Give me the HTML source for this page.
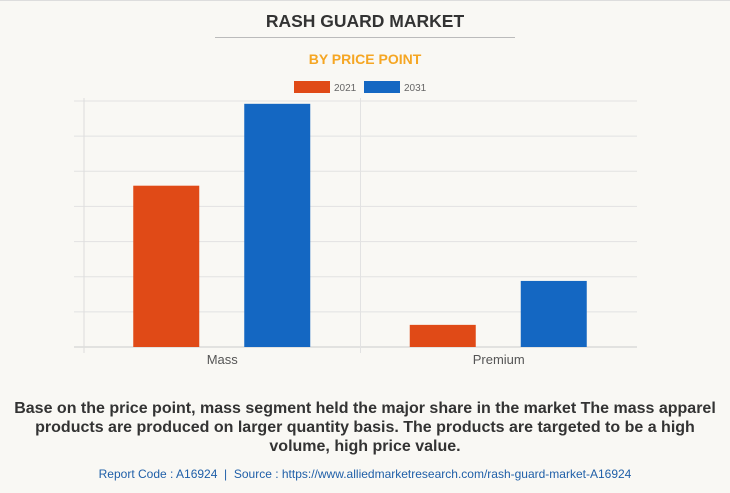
<!DOCTYPE html>
<html><head><meta charset="utf-8"><style>
body{margin:0;width:730px;height:493px;background:#f9f8f4;font-family:"Liberation Sans",sans-serif;overflow:hidden;position:relative}
.t{position:absolute;left:0;width:730px;text-align:center}
</style></head><body>
<div style="position:absolute;left:0;top:0;width:730px;height:1px;background:#ddd"></div>
<div class="t" style="top:11px;font-size:17.5px;font-weight:bold;color:#333">RASH GUARD MARKET</div>
<div style="position:absolute;left:215px;top:37px;width:300px;height:1px;background:#bbb"></div>
<div class="t" style="top:51px;font-size:14px;font-weight:bold;color:#f5a623">BY PRICE POINT</div>
<svg id="c" width="730" height="380" style="position:absolute;left:0;top:0"></svg>
<div class="t" style="top:399px;font-size:16px;font-weight:bold;color:#333;line-height:19px">Base on the price point, mass segment held the major share in the market The mass apparel<br>products are produced on larger quantity basis. The products are targeted to be a high<br>volume, high price value.</div>
<div class="t" style="top:467px;font-size:12px;color:#1f5fa8">Report Code : A16924 &nbsp;|&nbsp; Source : https://www.alliedmarketresearch.com/rash-guard-market-A16924</div>
<script>
const categories=["Mass","Premium"];
const series2021=[4.59,0.63];
const series2031=[6.92,1.88];
const seriesNames=["2021","2031"];
const yTicks=[0,1,2,3,4,5,6,7];
const NS="http://www.w3.org/2000/svg",svg=document.getElementById('c');
const L=84,R=637,T=101,B=347,yMax=7;
const y=v=>B-(v/yMax)*(B-T);
const cw=(R-L)/categories.length;
function mk(t,a){const e=document.createElementNS(NS,t);for(const k in a)e.setAttribute(k,a[k]);svg.appendChild(e);return e;}
yTicks.forEach(v=>{const g=mk('line',{x1:74,x2:R,y1:y(v),y2:y(v),stroke:v===0?'#ccc':'#e2e2e2','stroke-width':1});

});
const ax=mk('line',{x1:L,x2:L,y1:T-3,y2:B+6,stroke:'#ddd'});


for(let i=1;i<categories.length;i++){const d=mk('line',{x1:L+cw*i,x2:L+cw*i,y1:T-3,y2:B+6,stroke:'#e2e2e2'});

}
const cols=['#e04a17','#1467c2'];
[series2021,series2031].forEach((s,si)=>{s.forEach((v,i)=>{
const cx=L+cw*(i+0.5);const x=si===0?cx-89:cx+22;
const r=mk('rect',{x:x,y:y(v),width:66,height:B-y(v),fill:cols[si]});

});});
categories.forEach((c,i)=>{const t=mk('text',{x:L+cw*(i+0.5),y:364,'text-anchor':'middle','font-size':13,fill:'#555','font-family':'Liberation Sans'});t.textContent=c;

});
seriesNames.forEach((n,i)=>{const x=294+i*70;
const r=mk('rect',{x:x,y:81,width:36,height:12,fill:cols[i]});


const t=mk('text',{x:x+40,y:91,'font-size':10,fill:'#666','font-family':'Liberation Sans'});t.textContent=n;

});
</script>
</body></html>
